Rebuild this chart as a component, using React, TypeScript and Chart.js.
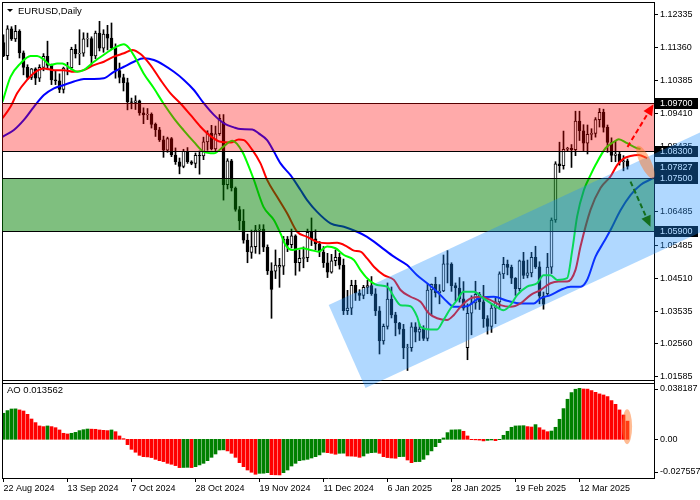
import React, { useEffect, useRef } from "react";
import { Chart, registerables } from "chart.js";
Chart.register(...registerables);

const FONT = '"Liberation Sans", Arial, sans-serif';

// ---- daily candles (EURUSD) ----
const openP = [
  1.1151,1.1112,1.1192,1.1162,1.1184,1.1120,1.1077,1.1047,1.1073,1.1045,
  1.1077,1.1110,1.1083,1.1040,1.1037,1.1012,1.1075,1.1076,1.1131,1.1117,
  1.1119,1.1162,1.1163,1.1111,1.1179,1.1134,1.1176,1.1164,1.1135,1.1068,
  1.1047,1.1032,1.0975,1.0973,1.0978,1.0942,1.0936,1.0938,1.0908,1.0892,
  1.0862,1.0831,1.0866,1.0817,1.0797,1.0783,1.0828,1.0797,1.0792,1.0816,
  1.0814,1.0856,1.0882,1.0835,1.0880,1.0915,1.0729,1.0800,1.0719,1.0655,
  1.0621,1.0564,1.0528,1.0545,1.0594,1.0597,1.0543,1.0473,1.0472,1.0484,
  1.0487,1.0567,1.0551,1.0577,1.0497,1.0510,1.0512,1.0587,1.0568,1.0553,
  1.0529,1.0497,1.0469,1.0503,1.0513,1.0490,1.0355,1.0362,1.0430,1.0407,
  1.0400,1.0424,1.0429,1.0405,1.0354,1.0265,1.0308,1.0389,1.0342,1.0318,
  1.0300,1.0244,1.0245,1.0307,1.0291,1.0300,1.0272,1.0416,1.0433,1.0408,
  1.0413,1.0494,1.0493,1.0429,1.0422,1.0390,1.0245,1.0347,1.0378,1.0403,
  1.0381,1.0331,1.0308,1.0362,1.0381,1.0464,1.0492,1.0483,1.0451,1.0420,
  1.0503,1.0459,1.0467,1.0513,1.0485,1.0398,1.0405,1.0484,1.0624,1.0791,
  1.0785,1.0834,1.0837,1.0833,1.0918,1.0889,1.0852,1.0878,1.0881,1.0922,
  1.0944,1.0899,1.0854,1.0816,1.0820,1.0797,1.0800,
];
const highP = [
  1.1174,1.1201,1.1198,1.1202,1.1189,1.1126,1.1085,1.1074,1.1076,1.1085,
  1.1118,1.1155,1.1087,1.1067,1.1058,1.1078,1.1092,1.1137,1.1145,1.1189,
  1.1180,1.1179,1.1168,1.1185,1.1214,1.1189,1.1202,1.1209,1.1147,1.1090,
  1.1057,1.1045,1.0986,1.0993,1.0980,1.0957,1.0955,1.0942,1.0912,1.0899,
  1.0873,1.0870,1.0869,1.0838,1.0808,1.0834,1.0839,1.0800,1.0823,1.0829,
  1.0870,1.0889,1.0905,1.0903,1.0937,1.0937,1.0806,1.0804,1.0722,1.0664,
  1.0655,1.0582,1.0594,1.0608,1.0610,1.0610,1.0550,1.0497,1.0535,1.0510,
  1.0575,1.0575,1.0597,1.0580,1.0535,1.0544,1.0597,1.0630,1.0595,1.0560,
  1.0545,1.0525,1.0522,1.0535,1.0525,1.0508,1.0415,1.0445,1.0445,1.0417,
  1.0430,1.0445,1.0456,1.0420,1.0367,1.0315,1.0437,1.0425,1.0350,1.0320,
  1.0314,1.0255,1.0319,1.0319,1.0315,1.0310,1.0433,1.0434,1.0454,1.0432,
  1.0520,1.0533,1.0497,1.0437,1.0453,1.0441,1.0375,1.0399,1.0442,1.0409,
  1.0430,1.0340,1.0375,1.0392,1.0470,1.0513,1.0505,1.0490,1.0453,1.0505,
  1.0528,1.0505,1.0528,1.0546,1.0500,1.0410,1.0525,1.0630,1.0797,1.0855,
  1.0888,1.0840,1.0848,1.0947,1.0947,1.0907,1.0906,1.0895,1.0928,1.0955,
  1.0953,1.0906,1.0868,1.0858,1.0826,1.0815,1.0805,
];
const lowP = [
  1.1109,1.1100,1.1157,1.1154,1.1105,1.1055,1.1041,1.1041,1.1026,1.1035,
  1.1067,1.1070,1.1026,1.1026,1.1002,1.1001,1.1055,1.1070,1.1105,1.1085,
  1.1110,1.1138,1.1083,1.1103,1.1126,1.1122,1.1129,1.1131,1.1045,1.1031,
  1.1007,1.0951,1.0954,1.0952,1.0935,1.0910,1.0922,1.0897,1.0872,1.0857,
  1.0810,1.0825,1.0812,1.0789,1.0761,1.0779,1.0792,1.0788,1.0779,1.0760,
  1.0803,1.0831,1.0832,1.0830,1.0875,1.0683,1.0716,1.0710,1.0650,1.0595,
  1.0555,1.0497,1.0510,1.0525,1.0523,1.0530,1.0462,1.0332,1.0450,1.0424,
  1.0462,1.0530,1.0541,1.0460,1.0472,1.0482,1.0500,1.0548,1.0535,1.0515,
  1.0483,1.0453,1.0466,1.0488,1.0478,1.0343,1.0343,1.0343,1.0385,1.0385,
  1.0390,1.0405,1.0400,1.0340,1.0226,1.0255,1.0300,1.0333,1.0280,1.0285,
  1.0212,1.0177,1.0234,1.0262,1.0266,1.0266,1.0265,1.0340,1.0395,1.0375,
  1.0411,1.0437,1.0412,1.0384,1.0380,1.0356,1.0209,1.0283,1.0359,1.0358,
  1.0305,1.0285,1.0290,1.0316,1.0360,1.0450,1.0461,1.0435,1.0400,1.0413,
  1.0450,1.0452,1.0455,1.0480,1.0375,1.0359,1.0400,1.0465,1.0617,1.0765,
  1.0775,1.0828,1.0780,1.0815,1.0860,1.0830,1.0820,1.0862,1.0870,1.0900,
  1.0885,1.0825,1.0797,1.0797,1.0787,1.0770,1.0775,
];
const closeP = [
  1.1112,1.1192,1.1162,1.1184,1.1120,1.1077,1.1047,1.1073,1.1045,1.1077,
  1.1110,1.1083,1.1040,1.1037,1.1012,1.1075,1.1076,1.1131,1.1117,1.1119,
  1.1162,1.1163,1.1111,1.1179,1.1134,1.1176,1.1164,1.1135,1.1068,1.1047,
  1.1032,1.0975,1.0973,1.0978,1.0942,1.0936,1.0938,1.0908,1.0892,1.0862,
  1.0831,1.0866,1.0817,1.0797,1.0783,1.0828,1.0797,1.0792,1.0816,1.0814,
  1.0856,1.0882,1.0835,1.0880,1.0926,1.0729,1.0800,1.0719,1.0655,1.0621,
  1.0564,1.0530,1.0545,1.0594,1.0597,1.0543,1.0473,1.0418,1.0490,1.0489,
  1.0567,1.0551,1.0577,1.0497,1.0510,1.0512,1.0587,1.0568,1.0553,1.0529,
  1.0497,1.0469,1.0503,1.0513,1.0490,1.0355,1.0362,1.0430,1.0407,1.0400,
  1.0424,1.0429,1.0405,1.0354,1.0265,1.0308,1.0389,1.0342,1.0318,1.0300,
  1.0244,1.0245,1.0307,1.0291,1.0300,1.0272,1.0416,1.0433,1.0408,1.0413,
  1.0494,1.0493,1.0429,1.0422,1.0390,1.0362,1.0347,1.0378,1.0403,1.0381,
  1.0331,1.0308,1.0362,1.0381,1.0464,1.0492,1.0483,1.0451,1.0420,1.0503,
  1.0459,1.0467,1.0513,1.0485,1.0398,1.0374,1.0484,1.0624,1.0791,1.0785,
  1.0834,1.0837,1.0833,1.0918,1.0889,1.0852,1.0878,1.0881,1.0922,1.0944,
  1.0899,1.0854,1.0816,1.0820,1.0797,1.0800,1.07827,
];

// ---- Alligator lines (bar index / price) ----
const lipsIdx = [-0.25,1.75,4.25,6.75,8.4,10,11.75,13.4,14.7,16.75,18.4,20,22.6,25,27.6,30.1,31.3,33,35,37.6,40,42.6,45,47.6,50,52.6,55,57.2,59.7,61,62.6,65,67.6,69.25,70.5,72.2,74.7,76.75,78.8,80.9,83,85.1,87.6,89.25,90.9,93.4,95.9,97.6,99.25,101.75,103.4,104.25,106.75,108.4,110,111.75,113.4,115,117.6,120,122.6,125,126.75,128.4,130.9,133.4,135,136.75,138.4,140.9,142.2,143.4,145.1,146.75,148,150.5,152.6,153.8,155.9,158.4,159.25];
const lipsVal = [1.0975,1.1049,1.1089,1.1111,1.1111,1.1101,1.1084,1.1089,1.1089,1.1074,1.1064,1.1069,1.1094,1.1114,1.1134,1.1146,1.1136,1.1104,1.1060,1.1015,1.0970,1.0926,1.0891,1.0856,1.0827,1.0822,1.0842,1.0859,1.0827,1.0792,1.0743,1.0663,1.0624,1.0584,1.0550,1.0535,1.0540,1.0535,1.0530,1.0545,1.0540,1.0520,1.0505,1.0475,1.0451,1.0431,1.0426,1.0396,1.0371,1.0368,1.0337,1.0307,1.0299,1.0299,1.0327,1.0361,1.0386,1.0411,1.0411,1.0391,1.0371,1.0356,1.0371,1.0401,1.0426,1.0436,1.0460,1.0460,1.0446,1.0451,1.0535,1.0634,1.0713,1.0757,1.0787,1.0837,1.0856,1.0864,1.0852,1.0837,1.0835];
const teethIdx = [-0.25,1.75,3.4,5.9,8,10.1,12.6,15.1,17.6,20.1,22.6,25.1,27.6,30.1,32.2,34.25,36.75,39.25,41.75,44.25,46.75,49.25,51.75,54.25,56.75,58.8,60.1,62.2,64.25,65.9,68.4,70.9,73.4,75.9,78.4,80.9,83.4,85.9,87.6,89.25,90.9,92.6,95.1,97.6,99.25,101.75,104.25,106.3,108.4,110.9,112.6,114.25,116.75,119.25,121.75,124.25,126.75,129.25,131.75,134.25,136.75,138.8,140.9,143,144.25,146.75,149.25,151.75,153.4,155.1,156.75,158.8,160.9];
const teethVal = [1.0926,1.0960,1.1000,1.1040,1.1064,1.1074,1.1069,1.1069,1.1064,1.1069,1.1084,1.1094,1.1109,1.1119,1.1129,1.1117,1.1084,1.1040,1.1000,1.0970,1.0936,1.0901,1.0873,1.0856,1.0854,1.0863,1.0861,1.0832,1.0792,1.0743,1.0693,1.0644,1.0589,1.0574,1.0559,1.0555,1.0556,1.0545,1.0533,1.0530,1.0510,1.0485,1.0460,1.0446,1.0416,1.0396,1.0381,1.0347,1.0332,1.0327,1.0342,1.0366,1.0391,1.0396,1.0386,1.0371,1.0366,1.0376,1.0401,1.0416,1.0436,1.0441,1.0441,1.0476,1.0545,1.0654,1.0719,1.0753,1.0787,1.0807,1.0814,1.0817,1.0807];
const jawIdx = [-0.25,2.6,5.1,7.6,10.1,12.6,15.1,17.6,20.1,22.6,25.1,27.6,30.1,32.6,35.1,37.6,40.1,42.6,45.1,47.6,50.1,52.6,55.1,57.6,59.25,62.2,63.8,65.9,67.6,69.25,71.75,74.25,75.9,78.4,81.75,85.1,88.4,90.9,94.25,97.6,100.9,103.4,105.9,108.4,110.9,112.6,115.9,119.25,122.6,125.9,129.25,132.6,134.25,136.75,139.25,141.75,144.25,145.9,148,150.1,151.75,154.25,156.75,159.25,162.6];
const jawVal = [1.0871,1.0891,1.0921,1.0960,1.0995,1.1015,1.1025,1.1035,1.1043,1.1043,1.1045,1.1064,1.1079,1.1094,1.1104,1.1099,1.1084,1.1064,1.1040,1.1010,1.0970,1.0936,1.0911,1.0899,1.0894,1.0893,1.0881,1.0861,1.0827,1.0792,1.0757,1.0713,1.0683,1.0648,1.0614,1.0604,1.0589,1.0574,1.0545,1.0515,1.0490,1.0460,1.0436,1.0411,1.0381,1.0366,1.0368,1.0394,1.0396,1.0384,1.0376,1.0376,1.0391,1.0401,1.0416,1.0426,1.0426,1.0446,1.0515,1.0559,1.0594,1.0653,1.0698,1.0728,1.0749];

// ---- Awesome Oscillator ----
const aoVals = [
  0.0195,0.0215,0.0227,0.0228,0.0220,0.0212,0.0187,0.0152,0.0125,0.0100,
  0.0095,0.0100,0.0095,0.0087,0.0070,0.0045,0.0040,0.0045,0.0052,0.0065,
  0.0072,0.0077,0.0076,0.0075,0.0070,0.0067,0.0065,0.0070,0.0057,0.0025,
  0.0005,-0.0040,-0.0075,-0.0097,-0.0120,-0.0130,-0.0132,-0.0137,-0.0150,-0.0160,
  -0.0167,-0.0180,-0.0187,-0.0197,-0.0212,-0.0211,-0.0210,-0.0212,-0.0205,-0.0192,
  -0.0180,-0.0160,-0.0135,-0.0110,-0.0080,-0.0079,-0.0087,-0.0105,-0.0135,-0.0175,
  -0.0205,-0.0230,-0.0247,-0.0262,-0.0255,-0.0254,-0.0250,-0.0265,-0.0266,-0.0267,
  -0.0250,-0.0230,-0.0200,-0.0180,-0.0160,-0.0155,-0.0150,-0.0140,-0.0130,-0.0117,
  -0.0097,-0.0100,-0.0105,-0.0112,-0.0105,-0.0104,-0.0125,-0.0126,-0.0128,-0.0135,
  -0.0125,-0.0105,-0.0100,-0.0098,-0.0105,-0.0130,-0.0137,-0.0140,-0.0142,-0.0130,
  -0.0129,-0.0155,-0.0175,-0.0168,-0.0167,-0.0150,-0.0117,-0.0087,-0.0055,-0.0025,
  0.0010,0.0050,0.0070,0.0071,0.0072,0.0060,0.0025,-0.0003,-0.0004,-0.0006,
  -0.0012,-0.0008,-0.0005,-0.0010,-0.0003,0.0030,0.0060,0.0090,0.0100,0.0101,
  0.0102,0.0095,0.0092,0.0110,0.0087,0.0070,0.0057,0.0062,0.0090,0.0150,
  0.0230,0.0300,0.0350,0.0375,0.0382,0.0377,0.0376,0.0365,0.0352,0.0340,
  0.0332,0.0320,0.0290,0.0262,0.0220,0.0182,0.0136,
];
const aoColor =
  "ggggrrrrrr" + "rgrrrrrggg" + "ggrrrrrgrr" + "rrrrrrrrrr" + "rrrrrggrgg" +
  "ggggggrrrr" + "rrrrgggrrr" + "gggggggggg" + "grrrggrrrr" + "ggggrrrrrg" +
  "grrggggggg" + "gggggrrrrr" + "rggrgggggg" + "grrgrrrggg" + "gggggrrrrr" + "rrrrrrr";
const aoLabel = "AO 0.013562";
const aoAxisVals = [0.038187, 0.0, -0.027557];
const aoAxisText = ["0.038187", "0.00", "-0.027557"];

// ---- axes ----
const dateTickIdx = [0, 16, 32, 48, 64, 80, 96, 112, 128, 144];
const dateLabels = ["22 Aug 2024", "13 Sep 2024", "7 Oct 2024", "28 Oct 2024", "19 Nov 2024", "11 Dec 2024", "6 Jan 2025", "28 Jan 2025", "19 Feb 2025", "12 Mar 2025"];
const priceTicks = [1.12335, 1.1136, 1.10385, 1.0941, 1.08435, 1.0746, 1.06485, 1.05485, 1.0451, 1.03535, 1.0256, 1.01585];

// ---- drawn objects ----
const levelLines = [1.097, 1.083, 1.075, 1.059];
const lastPrice = 1.07827;
const redZone = [1.083, 1.097];
const greenZone = [1.059, 1.075];
const channelIdx = [81.3, 174.25, 174.25, 90.5];
const channelVal = [1.03715, 1.08844, 1.05877, 1.0125];
const upArrowIdx = [156, 162.5];
const upArrowVal = [1.0841, 1.0968];
const downArrowIdx = [156.75, 161.75];
const downArrowVal = [1.0738, 1.0604];
const markIdx = 160.5, markVal = 1.0796;
const aoMarkIdx = 155.9, aoMarkVal = 0.0094;

const X_MIN = -0.375, X_MAX = 162.625;
const P_MIN = 0.985775, P_MAX = 1.127131;
const AO_MIN = -0.028986, AO_MAX = 0.327538;

const overlayPlugin = {
  id: "overlay",
  afterDraw(chart: any) {
    const { ctx, chartArea: ca, scales } = chart;
    const X = (v: number) => scales.x.getPixelForValue(v);
    const Y = (v: number) => scales.y.getPixelForValue(v);
    const A = (v: number) => scales.ao.getPixelForValue(v);
    const L = ca.left, R = ca.right;
    const MAIN_BOTTOM = ca.top + 378, AO_TOP = ca.top + 381;
    ctx.save();
    ctx.font = `9px ${FONT}`;
    ctx.textBaseline = "middle";
    // frames
    ctx.strokeStyle = "#000";
    ctx.lineWidth = 1;
    ctx.beginPath();
    ctx.moveTo(L + 0.5, ca.top); ctx.lineTo(L + 0.5, ca.bottom);
    ctx.moveTo(L, ca.top + 0.5); ctx.lineTo(R, ca.top + 0.5);
    ctx.moveTo(L, MAIN_BOTTOM + 0.5); ctx.lineTo(R, MAIN_BOTTOM + 0.5);
    ctx.moveTo(L, AO_TOP + 0.5); ctx.lineTo(R, AO_TOP + 0.5);
    ctx.stroke();
    // horizontal levels
    ctx.beginPath();
    for (const lv of levelLines) {
      const y = Math.round(Y(lv)) + 0.5;
      ctx.moveTo(L, y); ctx.lineTo(R, y);
    }
    ctx.stroke();
    // zones
    ctx.fillStyle = "rgba(255,0,0,0.333)";
    ctx.fillRect(L, Math.round(Y(redZone[1])), R - L, Math.round(Y(redZone[0])) - Math.round(Y(redZone[1])));
    ctx.fillStyle = "rgba(0,128,0,0.5)";
    ctx.fillRect(L, Math.round(Y(greenZone[1])) + 1, R - L, Math.round(Y(greenZone[0])) - Math.round(Y(greenZone[1])) - 1);
    // price boxes
    for (const v of [...levelLines, lastPrice]) {
      const y = Math.round(Y(v));
      ctx.fillStyle = "#000";
      ctx.fillRect(R + 1, y - 5, 43, 11);
      ctx.fillStyle = "#fff";
      ctx.textAlign = "left";
      ctx.fillText(v.toFixed(5), R + 6, y + 0.5);
    }
    // AO axis
    ctx.fillStyle = "#000";
    ctx.beginPath();
    aoAxisVals.forEach((v, k) => {
      let y = A(v);
      y = Math.max(AO_TOP + 6, Math.min(ca.bottom - 6, y));
      ctx.fillText(aoAxisText[k], R + 6, y);
      const ty = Math.round(y) + 0.5;
      ctx.moveTo(R, ty); ctx.lineTo(R + 4, ty);
    });
    ctx.stroke();
    // channel
    ctx.fillStyle = "rgba(30,144,255,0.35)";
    ctx.beginPath();
    channelIdx.forEach((ix, k) => {
      const px = X(ix), py = Y(channelVal[k]);
      if (k === 0) ctx.moveTo(px, py); else ctx.lineTo(px, py);
    });
    ctx.closePath();
    ctx.fill();
    // highlight ellipses
    ctx.fillStyle = "rgba(255,120,40,0.5)";
    ctx.beginPath();
    ctx.ellipse(X(markIdx), Y(markVal), 18, 5.5, 1.12, 0, Math.PI * 2);
    ctx.fill();
    ctx.beginPath();
    ctx.ellipse(X(aoMarkIdx), A(aoMarkVal), 5, 17.5, 0, 0, Math.PI * 2);
    ctx.fill();
    // arrows
    const arrow = (ix: number[], vv: number[], color: string) => {
      const x0 = X(ix[0]), y0 = Y(vv[0]), x1 = X(ix[1]), y1 = Y(vv[1]);
      const dx = x1 - x0, dy = y1 - y0, len = Math.hypot(dx, dy);
      const ux = dx / len, uy = dy / len;
      ctx.strokeStyle = color;
      ctx.fillStyle = color;
      ctx.lineWidth = 2;
      ctx.setLineDash([5, 3]);
      ctx.beginPath();
      ctx.moveTo(x0, y0);
      ctx.lineTo(x1 - ux * 8, y1 - uy * 8);
      ctx.stroke();
      ctx.setLineDash([]);
      ctx.beginPath();
      ctx.moveTo(x1, y1);
      ctx.lineTo(x1 - ux * 11 - uy * 5, y1 - uy * 11 + ux * 5);
      ctx.lineTo(x1 - ux * 11 + uy * 5, y1 - uy * 11 - ux * 5);
      ctx.closePath();
      ctx.fill();
    };
    arrow(upArrowIdx, upArrowVal, "#ff0000");
    arrow(downArrowIdx, downArrowVal, "rgb(20,110,30)");
    // titles
    ctx.fillStyle = "#000";
    ctx.beginPath();
    ctx.moveTo(7, 9); ctx.lineTo(13, 9); ctx.lineTo(10, 12); ctx.closePath();
    ctx.fill();
    ctx.textAlign = "left";
    ctx.font = `9.5px ${FONT}`;
    ctx.fillText("EURUSD,Daily", 18, 11);
    ctx.fillText(aoLabel, 7, AO_TOP + 7.5);
    ctx.restore();
  },
};

export default function App() {
  const ref = useRef<HTMLCanvasElement>(null);
  useEffect(() => {
    document.body.style.margin = "0";
    const canvas = ref.current!;
    const idx = closeP.map((_, i) => i);
    const wickData = idx.map((i) => ({ x: i, y: [lowP[i], highP[i]] }));
    const bodyData = idx.map((i) => ({ x: i, y: [Math.min(openP[i], closeP[i]), Math.max(openP[i], closeP[i])] }));
    const bodyColors = idx.map((i) => (closeP[i] >= openP[i] ? "#ffffff" : "#000000"));
    const aoData = aoVals.map((v, i) => ({ x: i, y: v }));
    const aoCols = aoVals.map((_, i) => (aoColor[i] === "g" ? "#008000" : "#ff0000"));
    const pts = (xs: number[], ys: number[]) => xs.map((x, k) => ({ x, y: ys[k] }));
    const lineDs = (xs: number[], ys: number[], color: string) => ({
      type: "line" as const,
      data: pts(xs, ys),
      borderColor: color,
      borderWidth: 2,
      pointRadius: 0,
      cubicInterpolationMode: "monotone" as const,
      yAxisID: "y",
      order: 0,
    });
    const tickFont = { family: FONT, size: 9 };
    const chart = new Chart(canvas, {
      type: "bar",
      data: {
        datasets: [
          lineDs(lipsIdx, lipsVal, "#00ff00"),
          lineDs(teethIdx, teethVal, "#ff0000"),
          lineDs(jawIdx, jawVal, "#0000ff"),
          { type: "bar", data: bodyData as any, backgroundColor: bodyColors, borderColor: "#000", borderWidth: 1, borderSkipped: false, barThickness: 3, grouped: false, yAxisID: "y", order: 1 } as any,
          { type: "bar", data: wickData as any, backgroundColor: "#000", borderWidth: 0, barThickness: 1, grouped: false, yAxisID: "y", order: 2 } as any,
          { type: "bar", data: aoData as any, backgroundColor: aoCols, borderWidth: 0, barThickness: 3, grouped: false, yAxisID: "ao", order: 3 } as any,
        ],
      },
      options: {
        animation: false,
        responsive: false,
        devicePixelRatio: 1,
        events: [],
        layout: { padding: { left: 2, top: 2, right: 0, bottom: 0 } },
        plugins: { legend: { display: false }, tooltip: { enabled: false }, title: { display: false } },
        scales: {
          x: {
            type: "linear",
            offset: false,
            min: X_MIN,
            max: X_MAX,
            position: "bottom",
            afterBuildTicks: (s: any) => { s.ticks = dateTickIdx.map((v) => ({ value: v })); },
            afterFit: (s: any) => { s.height = 22; s.paddingLeft = 0; s.paddingRight = 0; },
            ticks: {
              autoSkip: false, maxRotation: 0, minRotation: 0, align: "start", padding: 1, color: "#000", font: tickFont,
              callback: (v: any) => { const k = dateTickIdx.indexOf(Number(v)); return k >= 0 ? dateLabels[k] : ""; },
            },
            grid: { offset: false, drawOnChartArea: false, drawTicks: true, tickLength: 4, color: "#000" },
            border: { display: true, color: "#000" },
          },
          y: {
            type: "linear",
            position: "right",
            min: P_MIN,
            max: P_MAX,
            afterBuildTicks: (s: any) => { s.ticks = priceTicks.map((v) => ({ value: v })); },
            afterFit: (s: any) => { s.width = 46; s.paddingTop = 0; s.paddingBottom = 0; },
            ticks: { autoSkip: false, padding: 2, color: "#000", font: tickFont, callback: (v: any) => Number(v).toFixed(5) },
            grid: { drawOnChartArea: false, drawTicks: true, tickLength: 4, color: "#000" },
            border: { display: true, color: "#000" },
          },
          ao: { type: "linear", position: "right", display: false, min: AO_MIN, max: AO_MAX },
        },
      } as any,
      plugins: [overlayPlugin],
    });
    return () => chart.destroy();
  }, []);
  return <canvas ref={ref} width={700} height={500} style={{ display: "block" }} />;
}
